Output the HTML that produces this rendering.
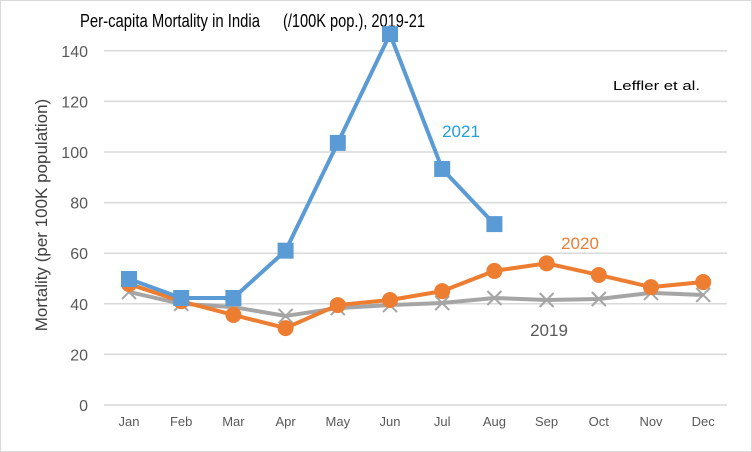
<!DOCTYPE html>
<html><head><meta charset="utf-8"><style>
body{margin:0;background:#fff}
svg{display:block;font-family:"Liberation Sans",Arial,sans-serif}
</style></head><body>
<svg id="c" width="752" height="452">
<rect x="0.5" y="0.5" width="751" height="451" fill="#fff" stroke="#d9d9d9"/>
<g>
<text x="80" y="27" font-size="18" fill="#000" textLength="180" lengthAdjust="spacingAndGlyphs">Per-capita Mortality in India</text>
<text x="283" y="27" font-size="18" fill="#000" textLength="142" lengthAdjust="spacingAndGlyphs">(/100K pop.), 2019-21</text>
</g>
<text x="613" y="90" font-size="13" fill="#000" textLength="87" lengthAdjust="spacingAndGlyphs">Leffler et al.</text>
<text transform="translate(47,215) rotate(-90)" text-anchor="middle" font-size="17" fill="#404040">Mortality (per 100K population)</text>
<g id="grid"></g><g id="series"></g>
<text x="461" y="137" text-anchor="middle" font-size="17" fill="#1fa0db">2021</text>
<text x="580" y="249" text-anchor="middle" font-size="17" fill="#ed7d31">2020</text>
<text x="549" y="336" text-anchor="middle" font-size="17" fill="#595959">2019</text>
</svg>
<script>
const months=["Jan","Feb","Mar","Apr","May","Jun","Jul","Aug","Sep","Oct","Nov","Dec"];
const yTicks=[0,20,40,60,80,100,120,140];
const v2021=[49.8,42.3,42.3,61,103.6,146.6,93.3,71.5];
const v2020=[47.8,41,35.6,30.4,39.5,41.5,45,53,56,51.4,46.6,48.6];
const v2019=[44.7,40,38.7,35.2,38.3,39.5,40.3,42.3,41.5,41.9,44.3,43.5];
const NS="http://www.w3.org/2000/svg";
const x=i=>129+i*52.2;
const y=v=>405-v*2.53;
function mk(t,a,p){const e=document.createElementNS(NS,t);for(const k in a)e.setAttribute(k,a[k]);p.appendChild(e);return e;}
const g=document.getElementById('grid'),s=document.getElementById('series');
yTicks.forEach(t=>{
 const l=mk('line',{x1:104,x2:727,y1:y(t),y2:y(t),stroke:'#d9d9d9','stroke-width':1.5},g);
 
 
 const tx=mk('text',{x:88,y:y(t)+6,'text-anchor':'end','font-size':16,fill:'#595959'},g);tx.textContent=t;
 
 
});
months.forEach((m,i)=>{
 const tx=mk('text',{x:x(i),y:426,'text-anchor':'middle','font-size':13,fill:'#595959'},g);tx.textContent=m;
 
 
});
function line(vals,col,name){
 const p=mk('polyline',{points:vals.map((v,i)=>x(i)+','+y(v)).join(' '),fill:'none',stroke:col,'stroke-width':4,'stroke-linejoin':'round'},s);
 
 
}
line(v2019,'#a5a5a5','2019');
v2019.forEach((v,i)=>{
 const d=7;const p=mk('path',{d:`M${x(i)-d},${y(v)-d}L${x(i)+d},${y(v)+d}M${x(i)-d},${y(v)+d}L${x(i)+d},${y(v)-d}`,stroke:'#a5a5a5','stroke-width':2},s);
 
 
});
line(v2020,'#ed7d31','2020');
v2020.forEach((v,i)=>{
 const c=mk('circle',{cx:x(i),cy:y(v),r:8,fill:'#ed7d31'},s);
 
 
});
line(v2021,'#5b9bd5','2021');
v2021.forEach((v,i)=>{
 const r=mk('rect',{x:x(i)-8,y:y(v)-8,width:16,height:16,fill:'#5b9bd5'},s);
 
 
});
</script>
</body></html>
